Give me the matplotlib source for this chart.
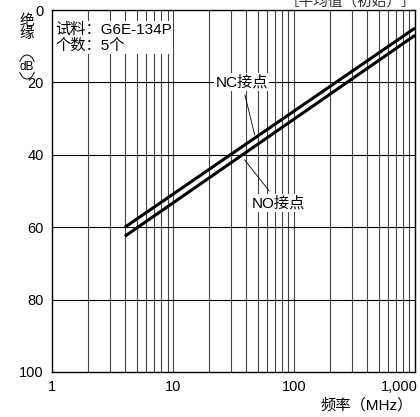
import matplotlib
matplotlib.use('Agg')
import matplotlib.pyplot as plt
from matplotlib.patches import Arc
from matplotlib.transforms import ScaledTranslation
import numpy as np

plt.rcParams['font.family'] = ['Liberation Sans', 'Noto Sans CJK SC', 'DejaVu Sans']

# data
freq = [4, 1000]                 # MHz
nc_contact = [60.0, 5.0]         # dB
no_contact = [62.5, 7.0]         # dB
x_ticks = [1, 10, 100, 1000]
x_tick_labels = ['1', '10', '100', '1,000']
y_ticks = [0, 20, 40, 60, 80, 100]

fig = plt.figure(figsize=(4.2, 4.17), dpi=100)
ax = fig.add_axes([0.124, 0.108, 0.864, 0.868])

ax.set_xscale('log')
ax.set_xlim(1, 1000)
ax.set_ylim(100, 0)

# grid: every 1..9 of each decade
for dec in [1, 10, 100]:
    for k in range(2, 11):
        ax.axvline(dec * k, color='#444444', lw=0.8, zorder=1)
for y in [20, 40, 60, 80]:
    ax.axhline(y, color='black', lw=0.8, zorder=1)

ax.plot(freq, nc_contact, color='black', lw=2.2, solid_capstyle='butt', zorder=3)
ax.plot(freq, no_contact, color='black', lw=2.2, solid_capstyle='butt', zorder=3)

ax.set_xticks(x_ticks)
ax.set_xticklabels(x_tick_labels)
ax.set_yticks(y_ticks)
ax.xaxis.set_minor_locator(matplotlib.ticker.NullLocator())
ax.tick_params(length=0, labelsize=10.5, pad=6)
last = ax.get_xticklabels()[-1]
last.set_ha('right')
last.set_transform(last.get_transform() + ScaledTranslation(0.03, 0, fig.dpi_scale_trans))
for s in ax.spines.values():
    s.set_linewidth(1.0)

# sample box
ax.text(1.06, 3.5, '试料：G6E-134P\n个数：5个', fontsize=11, va='top', ha='left',
        linespacing=1.15, bbox=dict(facecolor='white', edgecolor='none', pad=1), zorder=4)

# callouts
ax.annotate('NC接点', xy=(47.3, 34.5), xytext=(37, 19.9), fontsize=11,
            ha='center', va='center',
            bbox=dict(facecolor='white', edgecolor='none', pad=1),
            arrowprops=dict(arrowstyle='-', color='black', lw=0.6,
                            shrinkA=3, shrinkB=0), zorder=5)
ax.annotate('NO接点', xy=(39.1, 41.4), xytext=(74.6, 53.3), fontsize=11,
            ha='center', va='center',
            bbox=dict(facecolor='white', edgecolor='none', pad=1),
            arrowprops=dict(arrowstyle='-', color='black', lw=0.6,
                            shrinkA=3, shrinkB=0), zorder=5)

# axis titles
fig.text(27 / 420, 1 - 14 / 417, '绝\n缘', fontsize=10.5, ha='center', va='top', linespacing=0.95)
fig.text(27 / 420, 1 - 67 / 417, 'dB', fontsize=8.5, ha='center', va='center')
for t1, t2 in [(35, 145), (215, 325)]:
    fig.add_artist(Arc((27 / 420, 1 - 67 / 417), 16 / 420, 24 / 417, theta1=t1, theta2=t2,
                       transform=fig.transFigure, color='black', lw=0.7))
fig.text(0.983, 0.01, '频率（MHz）', fontsize=11, ha='right', va='bottom')
fig.text(0.99, 1.012, '［平均值（初始）］', fontsize=10.5, ha='right', va='top', color='#333333')

fig.savefig('out.png', dpi=100)
